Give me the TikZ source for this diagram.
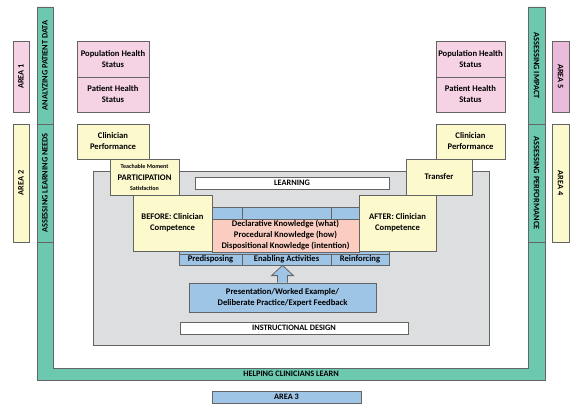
\documentclass[tikz,border=0pt]{standalone}
\usepackage{fontspec}
\setmainfont{Carlito}
\usetikzlibrary{calc}
\definecolor{tealc}{RGB}{108,201,176}
\definecolor{pinkc}{RGB}{245,210,228}
\definecolor{lilacc}{RGB}{233,186,218}
\definecolor{yellc}{RGB}{252,249,204}
\definecolor{grayc}{RGB}{221,222,224}
\definecolor{bluec}{RGB}{158,196,230}
\definecolor{salmc}{RGB}{250,205,192}
\definecolor{edgec}{RGB}{100,100,100}

\begin{document}
\begin{tikzpicture}[x=1pt,y=-1pt,
  box/.style={draw=edgec,line width=0.8pt,inner sep=0pt,align=center,
    font=\bfseries\fontsize{8.6}{11}\selectfont},
  capbox/.style={box,font=\bfseries\fontsize{8.3}{9}\selectfont},
  barlabel/.style={inner sep=0pt,font=\bfseries\fontsize{8.3}{9}\selectfont}]
\useasboundingbox (0,0) rectangle (580,409);
% frame round everything
\filldraw[fill=tealc,draw=edgec,line width=0.8pt] (37,7) -- (37,380) -- (545,380)
  -- (545,7) -- (528,7) -- (528,368) -- (53,368) -- (53,7) -- cycle;
\draw[edgec,line width=0.8pt] (37,124) -- (53,124) (37,242) -- (53,242)
  (528,124) -- (545,124) (528,242) -- (545,242);
\node[barlabel,rotate=90] (apd) at (45,65.5) {ANALYZING PATIENT DATA};
\node[barlabel,rotate=90] (aln) at (45,183) {ASSESSING LEARNING NEEDS};
\node[barlabel,rotate=-90] (aim) at (536.5,65.5) {ASSESSING IMPACT};
\node[barlabel,rotate=-90] (ape) at (536.5,183) {ASSESSING PERFORMANCE};
\node[barlabel] (hcl) at (291,374) {HELPING CLINICIANS LEARN};

% areas
\node[capbox,fill=pinkc,rotate=90,minimum width=71,minimum height=16] (area1) at (21,76.5) {AREA 1};
\node[capbox,fill=yellc,rotate=90,minimum width=118,minimum height=16] (area2) at (21,183) {AREA 2};
\node[capbox,fill=lilacc,rotate=-90,minimum width=71,minimum height=17] (area5) at (560.5,76.5) {AREA 5};
\node[capbox,fill=yellc,rotate=-90,minimum width=118,minimum height=17] (area4) at (560.5,183) {AREA 4};
\node[capbox,fill=bluec,minimum width=149,minimum height=12] (area3) at (286.5,397) {AREA 3};

% learning ground
\node[box,fill=grayc,minimum width=396,minimum height=174] (ground) at (291,258) {};
\node[capbox,fill=white,minimum width=194,minimum height=12] (learn) at (292,183) {LEARNING};
\node[capbox,fill=white,minimum width=228,minimum height=12] (insd) at (294,328) {INSTRUCTIONAL DESIGN};

% blue block
\node[box,fill=bluec,minimum width=210,minimum height=58] (blue) at (284,236) {};
\node[box,fill=bluec,minimum width=63,minimum height=12] (top1) at (210.5,213) {};
\node[box,fill=bluec,minimum width=89,minimum height=12] (top2) at (286.5,213) {};
\node[box,fill=bluec,minimum width=58,minimum height=12] (top3) at (360,213) {};
\node[box,fill=bluec,minimum width=63,minimum height=11] (pred) at (210.5,259.5) {Predisposing};
\node[box,fill=bluec,minimum width=89,minimum height=11] (enab) at (286.5,259.5) {Enabling Activities};
\node[box,fill=bluec,minimum width=58,minimum height=11] (reinf) at (360,259.5) {Reinforcing};
\node[box,fill=salmc,minimum width=147,minimum height=33] (know) at (285.5,235.5)
  {Declarative Knowledge (what)\\Procedural Knowledge (how)\\Dispositional Knowledge (intention)};

\node[box,fill=bluec,minimum width=187,minimum height=29] (pres) at (282.5,297.5)
  {Presentation/Worked Example/\\Deliberate Practice/Expert Feedback};
\filldraw[fill=bluec,draw=edgec,line width=0.8pt] ($(pres.north)+(-5,0)$) -- ($(pres.north)+(-5,-7)$)
  -- ($(pres.north)+(-11,-7)$) -- (pres.north |- blue.south) -- ($(pres.north)+(11,-7)$)
  -- ($(pres.north)+(5,-7)$) -- ($(pres.north)+(5,0)$);

% left column
\node[box,fill=pinkc,minimum width=72,minimum height=36] (popL) at (113,59) {Population Health\\Status};
\node[box,fill=pinkc,minimum width=72,minimum height=35] (patL) at (113,94.5) {Patient Health\\Status};
\node[box,fill=yellc,minimum width=72,minimum height=35] (cpL) at (113,141.5) {Clinician\\Performance};
\node[box,fill=yellc,minimum width=69,minimum height=36] (part) at (144.5,177)
  {{\fontsize{6}{7}\selectfont Teachable Moment}\\[1pt]PARTICIPATION\\[-1pt]{\fontsize{6}{7}\selectfont Satisfaction}};
\node[box,fill=yellc,minimum width=79,minimum height=56] (before) at (172.5,223) {BEFORE: Clinician\\Competence};

% right column
\node[box,fill=pinkc,minimum width=69,minimum height=36] (popR) at (470.5,59) {Population Health\\Status};
\node[box,fill=pinkc,minimum width=69,minimum height=35] (patR) at (470.5,94.5) {Patient Health\\Status};
\node[box,fill=yellc,minimum width=69,minimum height=35] (cpR) at (470.5,141.5) {Clinician\\Performance};
\node[box,fill=yellc,minimum width=66,minimum height=36] (trans) at (439,177) {Transfer};
\node[box,fill=yellc,minimum width=77,minimum height=56] (after) at (397.5,223) {AFTER: Clinician\\Competence};
\end{tikzpicture}
\end{document}
